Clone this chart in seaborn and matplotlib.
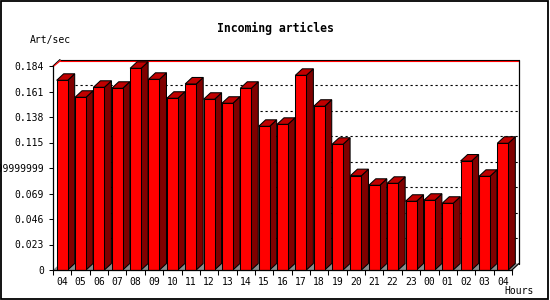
import numpy as np
import pandas as pd
import matplotlib
matplotlib.use("Agg")
import matplotlib.pyplot as plt
import seaborn as sns
from matplotlib.patches import Polygon, Rectangle

# ---------------- data ----------------
hours = ["04", "05", "06", "07", "08", "09", "10", "11", "12", "13", "14", "15",
         "16", "17", "18", "19", "20", "21", "22", "23", "00", "01", "02", "03", "04"]
values = [0.1711, 0.1558, 0.1648, 0.1639, 0.1819, 0.1720, 0.1549, 0.1678, 0.1540,
          0.1504, 0.1639, 0.1296, 0.1314, 0.1756, 0.1477, 0.1134, 0.0851, 0.0764,
          0.0782, 0.0620, 0.0629, 0.0602, 0.0983, 0.0845, 0.1143]
ytick_values = [0, 0.023, 0.046, 0.069, 0.092, 0.115, 0.138, 0.161, 0.184]
ytick_labels = ["0", "0.023", "0.046", "0.069", "0.09199999999999999",
                "0.115", "0.138", "0.161", "0.184"]
title = "Incoming articles"
ylabel = "Art/sec"
xlabel = "Hours"

# ---------------- style ----------------
sns.set_style("white")
plt.rcParams["font.family"] = ["DejaVu Sans Mono", "DejaVu Sans"]

FRONT = "#ff0000"
SIDE = "#800000"
TOP = "#c00000"
FLOOR = "#8c8c8c"

W, H = 550, 300
fig = plt.figure(figsize=(W / 100, H / 100), dpi=100)
fig.patch.set_facecolor("white")

ax_l, ax_r, ax_b, ax_t = 53, 512, 270, 66  # pixel coords (from top)
ax = fig.add_axes([ax_l / W, (H - ax_b) / H, (ax_r - ax_l) / W, (ax_b - ax_t) / H])
ax.set_facecolor("none")

df = pd.DataFrame({"slot": np.arange(len(hours)), "value": values})
sns.barplot(data=df, x="slot", y="value", color=FRONT, saturation=1, width=0.6,
            edgecolor="black", linewidth=0.75, ax=ax, zorder=3)

n = len(hours)
xmin, xmax = -0.5, n - 0.5
ymin, ymax = 0, ytick_values[-1]
ax.set_xlim(xmin, xmax)
ax.set_ylim(ymin, ymax)

# depth offsets (pixels -> data)
px_x = (xmax - xmin) / (ax_r - ax_l)
px_y = (ymax - ymin) / (ax_b - ax_t)
ddx = 7 * px_x
ddy = 6.5 * px_y

# back wall grid lines (dotted)
for yv in ytick_values[1:-1]:
    ax.plot([xmin + ddx, xmax + ddx], [yv + ddy, yv + ddy], color="black",
            lw=0.8, ls=(0, (2, 2.5)), zorder=0.5, clip_on=False)

# floor
ax.add_patch(Polygon([(xmin, 0), (xmax, 0), (xmax + ddx, ddy), (xmin + ddx, ddy)],
                     closed=True, facecolor=FLOOR, edgecolor="none", zorder=0.6,
                     clip_on=False))

# 3D faces of bars
for i, p in enumerate(ax.patches[:n] if False else [pp for pp in ax.patches if isinstance(pp, Rectangle)]):
    x0, w, h = p.get_x(), p.get_width(), p.get_height()
    z = 3 + i * 0.01
    p.set_zorder(z + 0.005)
    p.set_clip_on(False)
    side = Polygon([(x0 + w, 0), (x0 + w + ddx, ddy), (x0 + w + ddx, h + ddy), (x0 + w, h)],
                   closed=True, facecolor=SIDE, edgecolor="black", lw=0.75,
                   zorder=z, clip_on=False)
    top = Polygon([(x0, h), (x0 + ddx, h + ddy), (x0 + w + ddx, h + ddy), (x0 + w, h)],
                  closed=True, facecolor=TOP, edgecolor="black", lw=0.75,
                  zorder=z, clip_on=False)
    ax.add_patch(side)
    ax.add_patch(top)

# frame of back wall
ax.plot([xmin + ddx, xmax + ddx], [ymax + ddy, ymax + ddy], color="black", lw=0.8,
        zorder=2, clip_on=False)
ax.plot([xmin + ddx, xmax + ddx], [ymax + ddy - 1.1 * px_y] * 2, color="red", lw=0.8,
        zorder=2, clip_on=False)
ax.plot([xmin, xmin + ddx], [ymax, ymax + ddy], color="black", lw=0.8,
        zorder=2, clip_on=False)
ax.plot([xmin + 1.0 * px_x, xmin + ddx + 0.6 * px_x], [ymax, ymax + ddy - 1.1 * px_y],
        color="red", lw=0.8, zorder=2, clip_on=False)
ax.plot([xmax + ddx, xmax + ddx], [ddy, ymax + ddy], color="black", lw=0.9,
        zorder=2, clip_on=False)
ax.plot([xmax, xmax + ddx], [0, ddy], color="black", lw=0.8, zorder=2, clip_on=False)

# spines
for s in ["top", "right"]:
    ax.spines[s].set_visible(False)
for s in ["left", "bottom"]:
    ax.spines[s].set_color("black")
    ax.spines[s].set_linewidth(0.9)
    ax.spines[s].set_zorder(10)

# y ticks
ax.set_yticks(ytick_values)
ax.set_yticklabels(ytick_labels)
ax.tick_params(axis="y", direction="out", length=3, width=0.75, pad=3.6,
               labelsize=7, colors="black", left=True)

# x ticks: boundaries as major ticks, labels at centers
ax.set_xticks(np.arange(n + 1) - 0.5)
ax.set_xticklabels([""] * (n + 1))
ax.set_xticks(np.arange(n), minor=True)
ax.set_xticklabels(hours, minor=True)
ax.tick_params(axis="x", which="major", direction="out", length=3.5, width=0.75,
               bottom=True, colors="black")
ax.tick_params(axis="x", which="minor", length=0, pad=5, labelsize=7, colors="black")
ax.set_xlabel("")
ax.set_ylabel("")

# texts
fig.text(275 / W, 1 - 28 / H, title, ha="center", va="center", fontsize=8.3,
         fontweight="bold", color="black")
fig.text(30 / W, 1 - 39.5 / H, ylabel, ha="left", va="center", fontsize=7, color="black")
fig.text(504 / W, 1 - 291.5 / H, xlabel, ha="left", va="center", fontsize=7, color="black")

# outer border
fig.patches.append(Rectangle((0.75 / W, 1.25 / H), 547.5 / W, 297.5 / H,
                             transform=fig.transFigure, fill=False, lw=1.3,
                             edgecolor="black", zorder=20))

fig.savefig("out.png", dpi=100)
